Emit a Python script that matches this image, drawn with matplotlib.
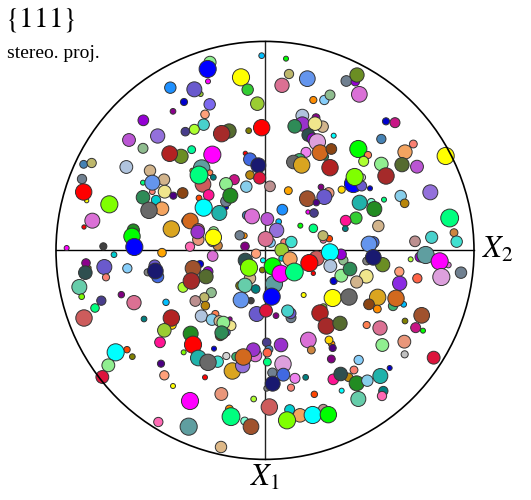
import numpy as np
import matplotlib
matplotlib.use("Agg")
import matplotlib.pyplot as plt
from matplotlib.patches import Circle

plt.rcParams['font.family'] = ['Liberation Serif', 'DejaVu Serif']
plt.rcParams['mathtext.fontset'] = 'stix'

ul_x = [635,480,473,474,573,593,622,361,452,433, 402,479,369,465,280,461,433,406,537,515,
        596,635,323,237,279,393,359,425,487,586, 600,625,101,125,229,96,300,427,455,480,
        342,279,307,307,459,447,490,553,600,629, 528,589,110,101,344,370,398,279,318,178,
        476,447,529,528,541,336,297,461,508,590, 606,127,102,364,409,421,250,246,583,569,
        445,445,443,491,503,487,490,50,160,253, 420,585]
ul_y = [47,67,87,124,112,149,191,143,162,148, 186,193,214,223,241,254,268,275,273,281,
        272,263,288,300,325,349,341,329,344,340, 358,376,373,369,381,417,392,392,384,398,
        419,428,455,428,433,405,412,419,405,414, 432,440,482,456,455,467,459,472,480,493,
        465,474,502,484,467,506,511,503,519,526, 529,542,561,567,543,543,570,589,587,586,
        569,599,576,575,617,605,592,624,619,621, 620,619]
ul_r = [8,17,24,7,24,16,19,16,7,21, 10,16,8,12,15,16,14,12,20,23,
        8,23,20,18,14,20,22,11,24,6, 18,21,11,13,18,13,16,7,23,8,
        16,7,8,21,22,25,8,14,12,17, 18,16,6,23,18,10,15,19,13,24,
        15,8,6,15,21,19,23,24,21,12, 21,21,6,23,13,22,17,23,8,13,
        17,16,19,14,13,14,23,7,10,24, 13,12]
ul_c = ['deepskyblue','lightgreen','blue','magenta','yellow','limegreen','yellowgreen','dodgerblue','yellowgreen','slateblue',
        'mediumblue','mediumslateblue','darkmagenta','lightsalmon','darkviolet','mediumturquoise','greenyellow','darkslateblue','darkolivegreen','brown',
        'olive','red','mediumpurple','mediumorchid','darkseagreen','olivedrab','firebrick','mediumspringgreen','magenta','red',
        'royalblue','midnightblue','steelblue','darkkhaki','lightsteelblue','slategray','tan','gold','cadetblue','coral',
        'tan','springgreen','salmon','cornflowerblue','indianred','springgreen','teal','mediumvioletred','darkgoldenrod','crimson',
        'lightgreen','skyblue','yellow','red','khaki','indigo','saddlebrown','seagreen','darkturquoise','chartreuse',
        'deeppink','orangered','mediumblue','slategray','forestgreen','sandybrown','dimgray','cyan','lightseagreen','steelblue',
        'orchid','orchid','red','goldenrod','midnightblue','chocolate','forestgreen','lime','darkorange','slategray',
        'indianred','darksalmon','darkorchid','lightgreen','peru','plum','yellow','magenta','#404040','blue',
        'hotpink','purple']

ur_x = [78,87,66,142,259,286,291,298,160,193, 210,127,168,127,104,188,165,378,405,145,
        221,158,364,172,195,180,214,138,295,324, 460,435,557,311,118,100,125,364,426,471,
        210,378,280,305,306,284,330,511,30,85, 183,206,193,245,142,169,422,434,299,334,
        372,343,67,144,162,22,56,121,288,257, 256,160,355,569,50,582,190,208,189,515,
        465,590,32,17,72,94,340,327,65]
ur_y = [56,102,136,116,123,125,105,163,180,180, 165,227,233,252,259,260,251,244,248,285,
        287,296,297,306,350,338,327,337,327,345, 312,336,348,364,360,366,375,372,374,380,
        383,408,431,438,412,411,445,457,439,452, 441,459,471,449,476,488,468,490,488,487,
        479,507,509,516,519,537,545,557,534,542, 566,565,558,534,571,578,600,596,587,592,
        604,605,608,597,606,606,607,612,630]
ur_r = [7,13,20,22,15,12,20,22,10,13, 14,18,11,20,19,16,19,10,14,18,
        7,16,13,23,10,22,15,14,24,10, 11,20,24,14,18,19,23,19,20,18,
        23,23,25,14,10,24,7,21,15,11, 8,15,21,10,22,9,16,12,21,11,
        7,21,15,6,12,18,8,7,17,15, 8,12,16,25,20,11,9,9,14,17,
        15,16,13,21,9,16,16,22,19]
ur_c = ['lime','darkkhaki','palevioletred','cornflowerblue','slategray','darkviolet','olivedrab','orchid','darkorange','lightskyblue',
        'darkseagreen','lightsteelblue','darkmagenta','darkorchid','seagreen','tan','khaki','mediumblue','mediumvioletred','darkslategray',
        'cyan','darkviolet','steelblue','plum','seagreen','chocolate','saddlebrown','violet','lime','coral',
        'salmon','sandybrown','yellow','greenyellow','mediumseagreen','dimgray','goldenrod','lightgreen','darkolivegreen','mediumorchid',
        'firebrick','brown','blue','slateblue','lightgray','chartreuse','mediumblue','mediumpurple','rosybrown','orange',
        'purple','darksalmon','slateblue','gold','sienna','indigo','skyblue','darkgoldenrod','lightseagreen','aquamarine',
        'springgreen','forestgreen','dodgerblue','magenta','darkslateblue','mediumorchid','deepskyblue','lime','limegreen','deeppink',
        'teal','springgreen','tan','springgreen','mediumpurple','peru','palevioletred','orangered','darkkhaki','mediumturquoise',
        'rosybrown','turquoise','lightskyblue','palevioletred','salmon','turquoise','royalblue','cornflowerblue','yellowgreen']

ll_x = [192,336,118,108,106,163,168,232,293,314, 323,316,488,618,450,429,474,468,399,424,
        88,95,154,214,135,252,484,463,436,466, 348,102,282,366,364,343,330,454,496,486,
        508,540,543,520,530,511,515,422,429,231, 197,247,401,492,529,445,503,474,333,175,
        157,343,465,369,547,578,558,616,610,580, 420,514,611,538,543,584,603,325,416,513,
        586,600,597,570,585,617,603,573,620]
ll_y = [29,23,68,54,83,66,97,70,82,62, 95,78,33,26,57,70,80,95,127,108,
        126,155,167,149,189,173,143,157,168,182, 172,219,222,240,219,256,292,213,207,224,
        228,222,242,233,262,272,263,266,299,314, 322,335,322,311,333,339,350,352,356,361,
        396,391,397,423,378,362,335,331,314,336, 468,447,462,492,515,528,545,531,545,606,
        46,100,68,122,121,132,167,165,207]
ll_r = [8,12,5,12,19,21,10,13,10,16, 17,22,15,13,10,22,14,20,14,23,
        21,8,13,9,12,20,14,13,15,12, 9,23,8,12,23,19,15,17,10,16,
        15,6,14,18,10,14,19,21,24,9, 24,8,7,7,10,22,16,23,10,18,
        18,13,7,7,23,20,12,18,19,23, 24,18,8,11,25,11,22,13,24,16,
        20,16,24,12,20,12,9,22,21]
ll_c = ['darkturquoise','orange','darkgoldenrod','darkmagenta','darkslategray','slateblue','salmon','lightskyblue','gray','slateblue',
        'royalblue','midnightblue','orchid','lightsalmon','mediumblue','sienna','darkviolet','darkolivegreen','greenyellow','brown',
        'mediumaquamarine','lawngreen','darkslateblue','purple','springgreen','palevioletred','darkseagreen','darkkhaki','rosybrown','darkgoldenrod',
        'deepskyblue','indianred','teal','gold','firebrick','yellowgreen','deeppink','lightsteelblue','coral','skyblue',
        'tan','darkmagenta','khaki','lightgreen','royalblue','saddlebrown','seagreen','forestgreen','red','orangered',
        'cyan','olive','lawngreen','mediumblue','lightgray','lightseagreen','turquoise','dimgray','indigo','lightgreen',
        'crimson','lightsalmon','red','yellow','goldenrod','mediumpurple','mediumseagreen','orchid','darkorchid','chocolate',
        'magenta','darksalmon','greenyellow','darkorange','springgreen','aquamarine','sienna','hotpink','cadetblue','burlywood',
        'darkslategray','tan','chartreuse','olive','mediumaquamarine','teal','#404040','cornflowerblue','slateblue']

lr_x = [9,7,65,90,38,42,62,103,170,148, 160,250,243,210,211,221,244,270,319,290,
        320,368,340,452,418,480,497,565,539,472, 419,603,544,35,131,218,267,353,327,352,
        399,431,408,18,48,93,92,83,190,180, 199,240,320,360,435,485,467,489,20,27,
        22,63,145,154,215,207,218,367,433,434, 521,214,296,22,69,389,37,70,105,137,
        282,220,266,242,290,322,361,245,93,20, 38,163,370,366,295,28,89,120,190,81,
        158,205]
lr_y = [46,75,40,42,64,117,86,81,40,54, 85,46,28,22,63,108,92,72,94,111,
        48,59,37,43,80,36,30,60,49,100, 115,83,96,155,150,159,156,157,178,192,
        183,178,160,197,212,218,205,198,187,204, 243,235,240,249,228,211,248,257,292,313,
        323,300,285,315,297,285,309,300,290,328, 338,342,345,351,357,369,383,389,400,397,
        375,403,397,387,415,407,393,437,428,430, 416,448,438,453,462,486,494,511,493,526,
        510,509]
lr_r = [7,8,8,20,24,24,24,25,21,24, 6,13,15,24,18,10,18,19,19,17,
        11,20,22,7,13,14,24,8,24,13, 20,16,24,24,7,24,23,23,15,11,
        13,8,23,18,8,14,15,17,10,23, 23,20,10,20,8,22,14,7,12,11,
        12,19,22,11,9,11,10,18,18,10, 18,11,13,11,23,7,13,18,14,8,
        11,15,12,19,21,16,21,7,10,8, 21,9,13,13,21,23,14,19,14,24,
        24,23]
lr_c = ['cyan','olive','darkturquoise','sandybrown','lime','cadetblue','magenta','springgreen','indianred','red',
        'red','darkseagreen','darkviolet','cyan','lightsteelblue','mediumblue','lightgreen','seagreen','khaki','tan',
        'gray','olivedrab','midnightblue','greenyellow','lightsalmon','darkviolet','cadetblue','orchid','magenta','tomato',
        'blueviolet','slategray','plum','blue','yellow','yellow','dimgray','goldenrod','saddlebrown','darkorange',
        'mediumseagreen','deepskyblue','chocolate','crimson','purple','slategray','slateblue','mediumturquoise','yellowgreen','firebrick',
        'brown','darkolivegreen','coral','palevioletred','olive','sienna','mediumvioletred','lime','darkslateblue','steelblue',
        'tomato','darkorchid','orchid','peru','darkorange','gold','indigo','lightgreen','darksalmon','silver',
        'crimson','purple','lightskyblue','springgreen','plum','mediumblue','slategray','royalblue','violet','teal',
        'salmon','deeppink','darkgoldenrod','darkslategray','forestgreen','skyblue','lightseagreen','cyan','salmon','gray',
        'midnightblue','orangered','teal','hotpink','mediumaquamarine','indianred','darkturquoise','sandybrown','rosybrown','chartreuse',
        'cyan','lime']

W, H = 531, 500
cx, cy, R = 265, 250.4, 209  # centre and radius of the projection in pixels

fig = plt.figure(figsize=(W / 100, H / 100), dpi=100)
ax = fig.add_axes([0, 0, 1, 1])
ax.set_xlim(-cx / R, (W - cx) / R)
ax.set_ylim((cy - H) / R, cy / R)
ax.set_aspect('equal')
ax.axis('off')

ax.plot([-1, 1], [0, 0], color='black', lw=1.0, zorder=1)
ax.plot([0, 0], [-1, 1], color='#222222', lw=1.0, zorder=1)

quadrants = [(ul_x, ul_y, ul_r, ul_c, 50, 40),
             (ur_x, ur_y, ur_r, ur_c, 260, 40),
             (ll_x, ll_y, ll_r, ll_c, 50, 245),
             (lr_x, lr_y, lr_r, lr_c, 260, 245)]

for qx, qy, qr, qc, ox, oy in quadrants:
    xs = (ox + np.array(qx) / 3 - cx) / R
    ys = (cy - oy - np.array(qy) / 3) / R
    rs = np.array(qr) * 1.07 / 3 / R
    for x, y, r, c in zip(xs, ys, rs, qc, strict=True):
        ax.add_patch(Circle((x, y), r, facecolor=c, edgecolor='#333333', lw=0.7, zorder=2))

ax.add_patch(Circle((0, 0), 1, fill=False, edgecolor='black', lw=1.2, zorder=3))

fig.text(5 / W, 1 - 20 / H, r'$\{111\}$', fontsize=21, ha='left', va='center', color='black')
fig.text(7 / W, 1 - 53 / H, 'stereo. proj.', fontsize=14, ha='left', va='center', color='black')
fig.text(498 / W, 1 - 250 / H, r'$X_2$', fontsize=22, ha='center', va='center', color='black')
fig.text(265 / W, 1 - 478 / H, r'$X_1$', fontsize=22, ha='center', va='center', color='black')

fig.savefig('out.png', dpi=100)
